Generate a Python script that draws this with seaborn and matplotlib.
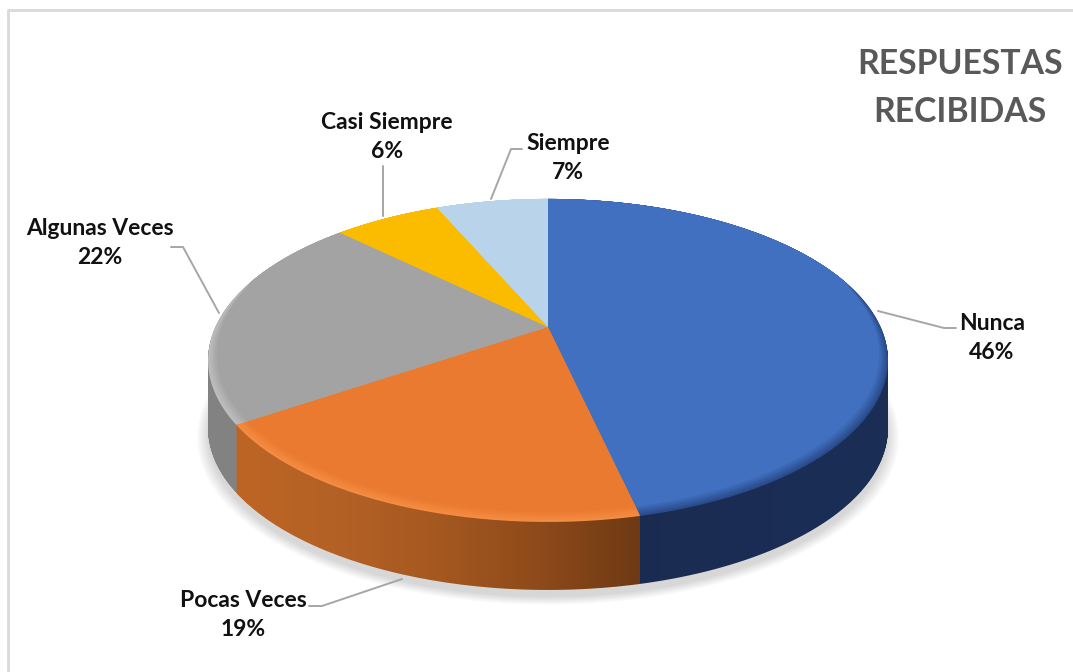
import matplotlib
matplotlib.use("Agg")
import numpy as np
import matplotlib.pyplot as plt
import seaborn as sns
from matplotlib.colors import LinearSegmentedColormap
from matplotlib.path import Path
from matplotlib.transforms import Transform

categories = ["Nunca", "Pocas Veces", "Algunas Veces", "Casi Siempre", "Siempre"]
shares = [46.45, 19.1, 21.75, 6.2, 6.5]
pct_labels = ["46%", "19%", "22%", "6%", "7%"]

face_colors = ["#4170C0", "#EA7A30", "#A3A3A3", "#FBBC00", "#B9D3EA"]
rim_colors = ["#2A4C8C", "#F48C42", "#BDBDBD", "#FBBC00", "#B9D3EA"]
wall_ramps = [["#1A2B50", "#1B2E56"],
              ["#BD6524", "#B46126", "#A55820", "#8E4A1A", "#6E3A14"],
              ["#828282", "#8E8E8E"],
              ["#BF9000", "#BF9000"],
              ["#8EA9C8", "#8EA9C8"]]
wall_draw_order = [4, 3, 2, 0, 1]

W, H = 1073, 672
CX, CY = 548, 327
A, B, K = 332.6, 154.6, 0.207
DEPTH = 68
BEVEL = 0.04


class Tilt(Transform):
    # unit pie -> tilted disc in picture pixels (nearer edge looks bigger)
    input_dims = output_dims = 2
    is_separable = False
    has_inverse = False

    def __init__(self, drop=0, inset=0.0):
        super().__init__()
        self.drop = drop
        self.inset = inset

    def transform_non_affine(self, values):
        values = np.asarray(values)
        # front of the disc pulled in a little, leaves room for the bevel
        s = 1 - self.inset * np.clip((0.3 - values[:, 1]) / 1.3, 0, 1) ** 0.5
        x, y = values[:, 0] * s, values[:, 1] * s
        den = 1 + K * y
        return np.column_stack([CX + A * x / den, CY - B * y / den + self.drop])

    def transform_path_non_affine(self, path):
        # flatten the beziers first so the arc stays true after the projection
        big = Path(path.vertices * 1000, path.codes)
        polys = big.to_polygons(closed_only=True)
        return Path(self.transform_non_affine(polys[0] / 1000), closed=True)


sns.set_theme(style="white")
plt.rcParams["font.family"] = ["Lato", "DejaVu Sans"]

fig = plt.figure(figsize=(W / 100, H / 100), dpi=100)
ax = fig.add_axes([0, 0, 1, 1])


def draw_pie(colors, radius=1.0, drop=0, inset=0.0, zorder=3, **kw):
    wedges, _ = ax.pie(shares, colors=colors, radius=radius, startangle=90,
                       counterclock=False, wedgeprops=dict(zorder=zorder, lw=0, **kw))
    for w in wedges:
        w.set_transform(Tilt(drop, inset) + ax.transData)
    return wedges


# soft shadow under the disc
for i in range(10):
    draw_pie(["#000000"] * 5, radius=1.0 + 0.0035 * (9 - i), drop=DEPTH + 7, zorder=1, alpha=0.016)

# top face, with a blurred bevel at the front
face = sns.color_palette(face_colors)
rim = sns.color_palette(rim_colors)
n_bevel = 6
for i in range(n_bevel):
    t = i / (n_bevel - 1)
    mix = [tuple((1 - t) * np.array(a) + t * np.array(b)) for a, b in zip(rim, face)]
    top = draw_pie(mix, inset=BEVEL * t, zorder=4 + i * 0.1)
    if i == 0:
        outline = top

# side wall: the wedge swept downwards, filled with a horizontal ramp
for n, idx in enumerate(wall_draw_order):
    base = outline[idx].get_path()
    swept = Path.make_compound_path(*[Tilt(d).transform_path(base) for d in range(0, DEPTH + 1)])
    cmap = LinearSegmentedColormap.from_list("wall", wall_ramps[idx])
    x0, x1 = swept.vertices[:, 0].min(), swept.vertices[:, 0].max()
    y0, y1 = swept.vertices[:, 1].min(), swept.vertices[:, 1].max()
    im = ax.imshow(np.linspace(0, 1, 256)[None, :], cmap=cmap, extent=[x0, x1, y1, y0],
                   aspect="auto", zorder=2 + n * 0.1)
    im.set_clip_path(swept, transform=ax.transData)

# leader lines
leaders = [([878, 944, 956], [311, 328, 328]),
           ([402, 322, 309], [579, 606, 606]),
           ([219, 183, 171], [313, 247, 247]),
           ([383, 383], [216, 166]),
           ([491, 511, 522], [199, 149, 149])]
for xs, ys in leaders:
    ax.plot(xs, ys, color="#A6A6A6", lw=1.4, zorder=5)

# data labels
label_pos = [(992, 338), (243, 615), (100, 243), (387, 137), (568, 158)]
for name, pct, (x, y) in zip(categories, pct_labels, label_pos):
    ax.text(x, y, name + "\n" + pct, ha="center", va="center", fontsize=16.5,
            fontweight="bold", color="#111111", linespacing=1.46, zorder=6)

ax.text(960, 88, "RESPUESTAS\nRECIBIDAS", ha="center", va="center", fontsize=24.3,
        fontweight="bold", color="#595959", linespacing=1.6, zorder=6)

# chart area border, only left and top visible
ax.plot([8, 8, W], [H, 10, 10], color="#D9D9D9", lw=2, zorder=6)

ax.set_aspect("auto")
ax.set_xlim(0, W)
ax.set_ylim(H, 0)
ax.axis("off")
fig.savefig("out.png", dpi=100, facecolor="white")
